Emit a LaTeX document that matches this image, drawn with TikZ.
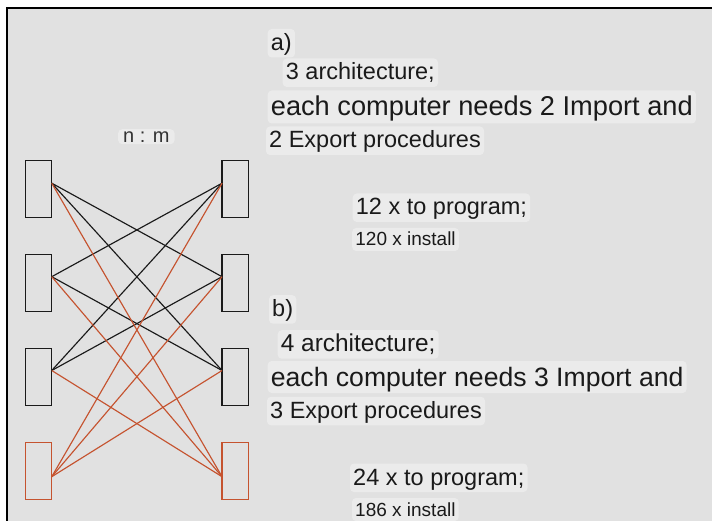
\documentclass[tikz,border=0pt]{standalone}
\usepackage{fontspec}
\setmainfont{Liberation Sans}
\definecolor{panel}{HTML}{E1E1E1}
\definecolor{tagbg}{HTML}{EBEBEB}
\definecolor{ink}{HTML}{1A1A1A}
\definecolor{rust}{HTML}{C5532F}
\tikzset{
  unit/.style={draw=ink, line width=1.4pt, minimum width=26.5pt, minimum height=56.5pt, inner sep=0pt, outer sep=0pt},
  newunit/.style={unit, draw=rust},
  link/.style={draw=ink, line width=1.15pt},
  newlink/.style={draw=rust, line width=1.15pt},
  tag/.style={fill=tagbg, rounded corners=4pt, inner ysep=0pt, inner xsep=3.2pt, anchor=base west, text=ink},
  big/.style={tag, font=\fontsize{27.2pt}{27.2pt}\selectfont, text height=25.5pt, text depth=7.5pt},
  bigb/.style={tag, font=\fontsize{26.6pt}{26.6pt}\selectfont, text height=25pt, text depth=7pt},
  mid/.style={tag, font=\fontsize{23.5pt}{23.5pt}\selectfont, text height=21.5pt, text depth=7pt},
  small/.style={tag, font=\fontsize{19pt}{19pt}\selectfont, text height=18pt, text depth=5pt},
}
\begin{document}
\begin{tikzpicture}[x=1pt,y=-1pt]
\useasboundingbox (0,0) rectangle (712,521);
\fill[white] (0,0) rectangle (712,521);
\fill[panel] (7.3,8.3) rectangle (712,521);
\draw[black, line width=2pt] (6.3,8.3) -- (712,8.3);
\draw[black, line width=2pt] (7.3,7.3) -- (7.3,521);

% computers on both sides
\node[unit]    (L1) at (38.5,189) {};
\node[unit]    (L2) at (38.5,283) {};
\node[unit]    (L3) at (38.5,377) {};
\node[newunit] (L4) at (38.5,471) {};
\node[unit]    (R1) at (235.3,189) {};
\node[unit]    (R2) at (235.3,283) {};
\node[unit]    (R3) at (235.3,377) {};
\node[newunit] (R4) at (235.3,471) {};

% port points
\coordinate (p1) at ([yshift=5.8pt]L1.east);
\coordinate (p2) at ([yshift=6.3pt]L2.east);
\coordinate (p3) at ([yshift=6.5pt]L3.east);
\coordinate (p4) at ([yshift=-5.7pt]L4.east);
\coordinate (q1) at ([yshift=5.8pt]R1.west);
\coordinate (q2) at ([yshift=6.3pt]R2.west);
\coordinate (q3) at ([yshift=6.5pt]R3.west);
\coordinate (q4) at ([yshift=-5.7pt]R4.west);

% existing connections
\draw[link] (p1) -- (q2);
\draw[link] (p1) -- (q3);
\draw[link] (p2) -- (q1);
\draw[link] (p2) -- (q3);
\draw[link] (p3) -- (q1);
\draw[link] (p3) -- (q2);
% connections added by the fourth architecture
\draw[newlink] (p1) -- (q4);
\draw[newlink] (p2) -- (q4);
\draw[newlink] (p3) -- (q4);
\draw[newlink] (p4) -- (q1);
\draw[newlink] (p4) -- (q2);
\draw[newlink] (p4) -- (q3);

\node[tag, font=\fontsize{20pt}{20pt}\selectfont, text=black!80, text height=13.5pt, text depth=1.5pt, inner xsep=5pt] (nm) at (118,142.7) {n : m};

% case a
\node[mid] (a) at (267.5,50.5) {a)};
\node[mid] (a1) at (282.5,80) {3 architecture;};
\node[big] (a2) at (267.5,116) {each computer needs 2 Import and};
\node[mid] (a3) at (265.8,148) {2 Export procedures};
\node[mid] (a4) at (352.5,215) {12 x to program;};
\node[small] (a5) at (352,246) {120 x install};

% case b
\node[mid] (b) at (268.8,316.7) {b)};
\node[mid, font=\fontsize{24.4pt}{24.4pt}\selectfont] (b1) at (277.5,351.7) {4 architecture;};
\node[bigb] (b2) at (267.5,386) {each computer needs 3 Import and};
\node[mid] (b3) at (266.8,418.3) {3 Export procedures};
\node[mid] (b4) at (349.8,485) {24 x to program;};
\node[small] (b5) at (351.8,516) {186 x install};
\end{tikzpicture}
\end{document}
